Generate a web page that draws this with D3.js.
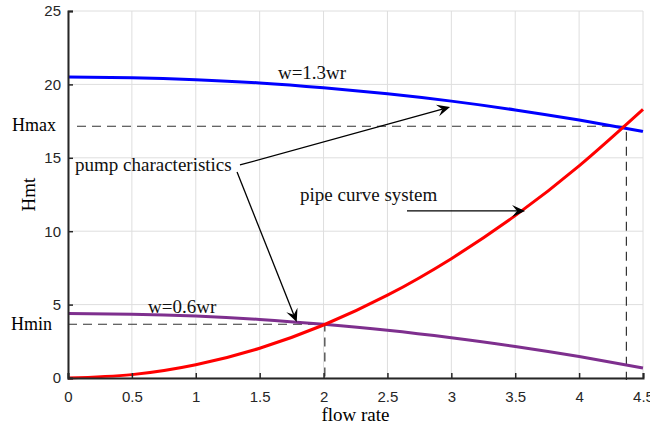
<!DOCTYPE html>
<html>
<head>
<meta charset="utf-8">
<script src="https://cdn.jsdelivr.net/npm/d3@7"></script>
<style>
  body { margin: 0; background: #fff; }
  svg { display: block; }
</style>
</head>
<body>
<div id="chart"></div>
<script>
// flow rate samples and the three curves
var flow = [0, 0.5, 1, 1.5, 2, 2.5, 3, 3.5, 4, 4.5];
var pumpHigh = [20.5, 20.45, 20.32, 20.1, 19.77, 19.36, 18.86, 18.26, 17.57, 16.8];   // w=1.3wr
var pumpLow = [4.4, 4.35, 4.22, 3.99, 3.66, 3.25, 2.74, 2.15, 1.46, 0.68];           // w=0.6wr
var pipe = [0, 0.23, 0.9, 2.03, 3.61, 5.64, 8.13, 11.06, 14.45, 18.3];

var xTicks = [0, 0.5, 1, 1.5, 2, 2.5, 3, 3.5, 4, 4.5];
var yTicks = [0, 5, 10, 15, 20, 25];

// operating points
var hmax = { q: 4.37, h: 17.15 };
var hmin = { q: 2.01, h: 3.66 };

var width = 650,
    height = 427,
    margin = { top: 11, right: 7, bottom: 49, left: 68 };

var svg = d3.select("#chart")
    .append("svg")
    .attr("width", width)
    .attr("height", height);

var x = d3.scaleLinear().domain([0, 4.5]).range([margin.left, width - margin.right]);
var y = d3.scaleLinear().domain([0, 25]).range([height - margin.bottom, margin.top]);

// grid
var grid = svg.append("g").attr("stroke", "#dedede").attr("stroke-width", 1);
grid.selectAll(".gx").data(xTicks).enter().append("line")
    .attr("x1", d => x(d)).attr("x2", d => x(d))
    .attr("y1", y(0)).attr("y2", y(25));
grid.selectAll(".gy").data(yTicks).enter().append("line")
    .attr("x1", x(0)).attr("x2", x(4.5))
    .attr("y1", d => y(d)).attr("y2", d => y(d));

// dashed guides
var dash = svg.append("g")
    .attr("stroke", "#333")
    .attr("stroke-width", 1.2)
    .attr("stroke-dasharray", "9,6")
    .attr("fill", "none");
dash.append("path")
    .attr("d", "M" + (x(0) + 9) + "," + y(hmax.h) + "H" + x(hmax.q) + "V" + (y(0) + 2));
dash.append("path")
    .attr("d", "M" + x(0) + "," + y(hmin.h) + "H" + x(hmin.q) + "V" + (y(0) + 2));

// curves
var line = d3.line()
    .x(function(d, i) { return x(flow[i]); })
    .y(function(d) { return y(d); })
    .curve(d3.curveNatural);

var series = [
    { vals: pumpHigh, color: "#0000ff" },
    { vals: pumpLow, color: "#7e2f8e" },
    { vals: pipe, color: "#ff0000" }
];
svg.selectAll(".curve").data(series).enter().append("path")
    .attr("fill", "none")
    .attr("stroke", d => d.color)
    .attr("stroke-width", 3)
    .attr("d", d => line(d.vals));

// axes (left + bottom only, ticks inward)
var axisColor = "#262626";
var xAxis = svg.append("g").attr("transform", "translate(0," + y(0) + ")")
    .call(d3.axisBottom(x).tickValues(xTicks).tickSize(-5).tickPadding(13).tickFormat(d3.format("")));
var yAxis = svg.append("g").attr("transform", "translate(" + x(0) + ",0)")
    .call(d3.axisLeft(y).tickValues(yTicks).tickSize(-5).tickPadding(7));
[xAxis, yAxis].forEach(function(a) {
    a.select(".domain").attr("stroke", axisColor).attr("stroke-width", 2);
    a.selectAll(".tick line").attr("stroke", axisColor).attr("stroke-width", 1.5);
    a.selectAll(".tick text")
        .attr("fill", axisColor)
        .style("font-family", "Liberation Sans, Arial, sans-serif")
        .style("font-size", "15px");
});

// labels
var serif = "Liberation Serif, Times New Roman, serif";
svg.append("text")
    .attr("x", (x(0) + x(4.5)) / 2).attr("y", 421)
    .attr("text-anchor", "middle")
    .style("font-family", serif).style("font-size", "19px")
    .text("flow rate");
svg.append("text")
    .attr("transform", "translate(35," + (y(0) + y(25)) / 2 + ") rotate(-90)")
    .attr("text-anchor", "middle")
    .style("font-family", serif).style("font-size", "19px")
    .text("Hmt");

svg.append("text")
    .attr("x", 12).attr("y", y(hmax.h) + 5)
    .style("font-family", serif).style("font-size", "18px")
    .text("Hmax");
svg.append("text")
    .attr("x", 11).attr("y", y(hmin.h) + 6)
    .style("font-family", serif).style("font-size", "18px")
    .text("Hmin");

var notes = [
    { text: "w=1.3wr", q: 1.643, h: 20.37 },
    { text: "w=0.6wr", q: 0.626, h: 4.43 },
    { text: "pump characteristics", q: 0.055, h: 14.1 },
    { text: "pipe curve system", q: 1.816, h: 12.06 }
];
svg.selectAll(".note").data(notes).enter().append("text")
    .attr("x", d => x(d.q)).attr("y", d => y(d.h))
    .style("font-family", serif).style("font-size", "19px")
    .attr("fill", "#111")
    .text(d => d.text);

// arrows
var arrows = [
    { q0: 1.346, h0: 14.51, q1: 2.99, h1: 18.46 },
    { q0: 1.323, h0: 14.03, q1: 1.79, h1: 3.81 },
    { q0: 2.653, h0: 11.38, q1: 3.577, h1: 11.38 }
];
arrows.forEach(function(a) {
    var x0 = x(a.q0), y0 = y(a.h0), x1 = x(a.q1), y1 = y(a.h1);
    var ang = Math.atan2(y1 - y0, x1 - x0);
    var len = 13, wid = 6, notch = 8;
    svg.append("line")
        .attr("x1", x0).attr("y1", y0)
        .attr("x2", x1 - notch * Math.cos(ang)).attr("y2", y1 - notch * Math.sin(ang))
        .attr("stroke", "#000").attr("stroke-width", 1.3);
    var c = Math.cos(ang), s = Math.sin(ang);
    var pts = [
        [x1, y1],
        [x1 - len * c + wid * s, y1 - len * s - wid * c],
        [x1 - notch * c, y1 - notch * s],
        [x1 - len * c - wid * s, y1 - len * s + wid * c]
    ];
    svg.append("path")
        .attr("d", "M" + pts.map(p => p.join(",")).join("L") + "Z")
        .attr("fill", "#000");
});
</script>
</body>
</html>
